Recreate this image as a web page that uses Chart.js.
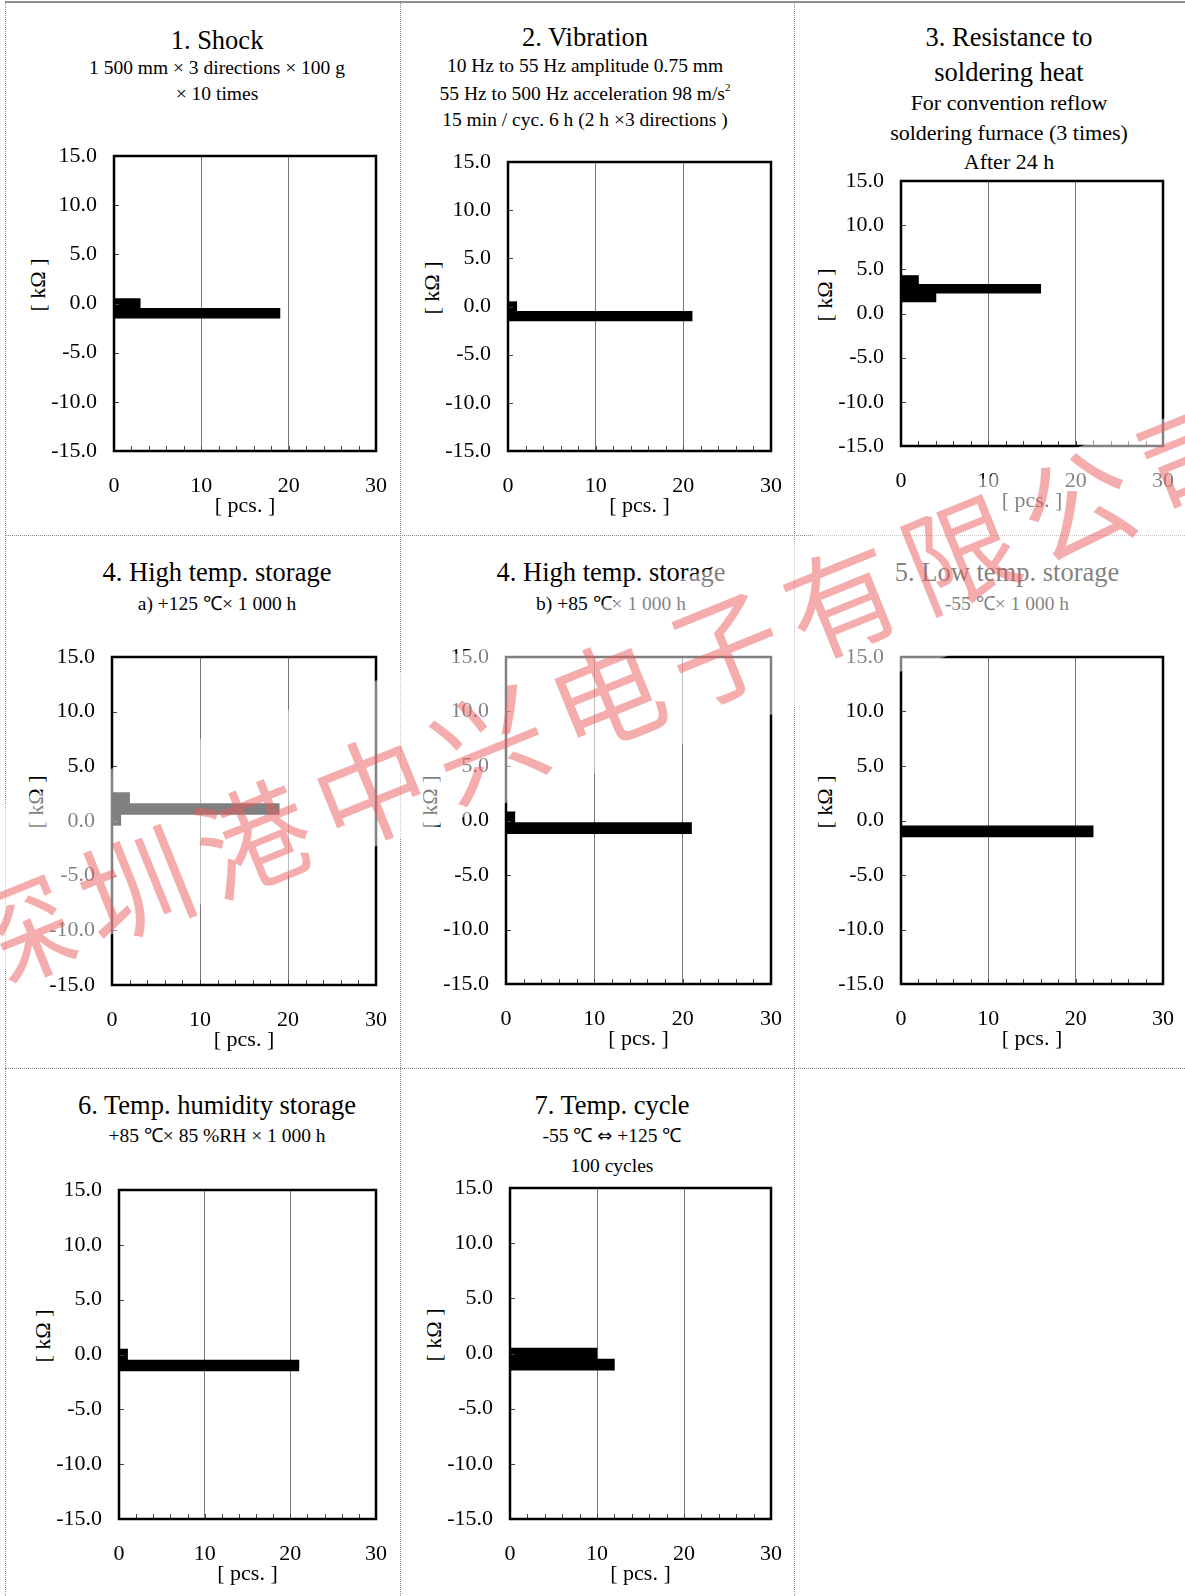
<!DOCTYPE html>
<html>
<head>
<meta charset="utf-8">
<script src="https://cdn.jsdelivr.net/npm/chart.js@4.4.1/dist/chart.umd.min.js"></script>
<style>
  body { margin: 0; background: #fff; width: 1185px; height: 1596px; position: relative; overflow: hidden;
         font-family: 'Liberation Serif', 'Times New Roman', serif; color: #000; }
  .t { position: absolute; white-space: nowrap; transform: translateX(-50%); line-height: 1; }
  .t sup { font-size: 11px; vertical-align: 9px; line-height: 0; }
  .arr { font-family: 'DejaVu Sans'; font-size: 18px; }
  .ylab { position: absolute; white-space: nowrap; font-size: 22px; line-height: 1; transform: translate(-50%, -50%) rotate(-90deg); }
  .vl { position: absolute; width: 0; border-left: 1px dotted #8a8a8a; }
  .hl { position: absolute; height: 0; border-top: 1px dotted #8a8a8a; }
  canvas { position: absolute; }
  #band { position: absolute; left: 592px; top: 691px; width: 1700px; height: 157px; margin-left: -850px; margin-top: -78px;
          transform: rotate(-18.4deg); background: rgba(255,255,255,0.5); pointer-events: none; z-index: 4; }
  #wm { position: absolute; left: 604px; top: 690px; width: 1700px; height: 150px; margin-left: -850px; margin-top: -75px;
        transform: rotate(-22deg); text-align: center; line-height: 150px; padding-left: 15px; box-sizing: border-box;
        font-family: 'Noto Sans CJK SC'; font-weight: 400; font-size: 112px; letter-spacing: 15px; color: rgba(235,90,90,0.5);
        white-space: nowrap; pointer-events: none; z-index: 5; }
</style>
</head>
<body>
<script>
// resistance change bins [kΩ] and number of pieces per bin
var shockKohm = [0, -1];
var shockPcs = [3, 19];
var vibrationKohm = [0, -1];
var vibrationPcs = [1, 21];
var solderKohm = [3.8, 2.8, 1.8];
var solderPcs = [2, 16, 4];
var highTempAKohm = [2.1, 1.1, 0.1];
var highTempAPcs = [2, 19, 1];
var highTempBKohm = [0.3, -0.7];
var highTempBPcs = [1, 21];
var lowTempKohm = [-1];
var lowTempPcs = [22];
var humidityKohm = [0, -1];
var humidityPcs = [1, 21];
var cycleKohm = [0, -1];
var cyclePcs = [10, 12];

var pcsTicks = [0, 10, 20, 30];
var kohmTicks = [-15, -10, -5, 0, 5, 10, 15];

Chart.defaults.font.family = "'Liberation Serif', 'Times New Roman', serif";
Chart.defaults.font.size = 22;
Chart.defaults.color = '#000';

var panels = [
  { kohm: shockKohm, pcs: shockPcs, plot: [114, 156, 376, 451], cx: 217,
    lines: [['1. Shock', 41, 26.5], ['1 500 mm × 3 directions × 100 g', 69, 19.5], ['× 10 times', 95, 19.5]] },
  { kohm: vibrationKohm, pcs: vibrationPcs, plot: [508, 162, 771, 451], cx: 585,
    lines: [['2. Vibration', 38, 26.5], ['10 Hz to 55 Hz amplitude 0.75 mm', 66.5, 19.5],
            ['55 Hz to 500 Hz acceleration 98 m/s<sup>2</sup>', 94.5, 19.5], ['15 min / cyc. 6 h (2 h ×3 directions )', 120.5, 19.5]] },
  { kohm: solderKohm, pcs: solderPcs, plot: [901, 181, 1163, 446], cx: 1009,
    lines: [['3. Resistance to', 38, 26.5], ['soldering heat', 73.5, 26.5], ['For convention reflow', 104, 22],
            ['soldering furnace (3 times)', 133.5, 22], ['After 24 h', 163, 22]] },
  { kohm: highTempAKohm, pcs: highTempAPcs, plot: [112, 657, 376, 985], cx: 217,
    lines: [['4. High temp. storage', 573, 26.5], ['a) +125 ℃× 1 000 h', 605, 19.5]] },
  { kohm: highTempBKohm, pcs: highTempBPcs, plot: [506, 657, 771, 984], cx: 611,
    lines: [['4. High temp. storage', 573, 26.5], ['b) +85 ℃× 1 000 h', 605, 19.5]] },
  { kohm: lowTempKohm, pcs: lowTempPcs, plot: [901, 657, 1163, 984], cx: 1007,
    lines: [['5. Low temp. storage', 573, 26.5], ['-55 ℃× 1 000 h', 605, 19.5]] },
  { kohm: humidityKohm, pcs: humidityPcs, plot: [119, 1190, 376, 1519], cx: 217,
    lines: [['6. Temp. humidity storage', 1106, 26.5], ['+85 ℃× 85 %RH × 1 000 h', 1137, 19.5]] },
  { kohm: cycleKohm, pcs: cyclePcs, plot: [510, 1188, 771, 1519], cx: 612,
    lines: [['7. Temp. cycle', 1106, 26.5], ['-55 ℃ <span class="arr">⇔</span> +125 ℃', 1137, 19.5], ['100 cycles', 1167, 19.5]] }
];

// thick frame + small inside tick marks
var frame = {
  id: 'frame',
  afterDatasetsDraw: function (chart) {
    var a = chart.chartArea, ctx = chart.ctx, xs = chart.scales.x, ys = chart.scales.y;
    ctx.save();
    ctx.strokeStyle = '#444';
    ctx.lineWidth = 1;
    for (var v = 2; v < 30; v += 2) {
      var px = Math.round(xs.getPixelForValue(v)) + 0.5;
      ctx.beginPath(); ctx.moveTo(px, a.bottom); ctx.lineTo(px, a.bottom - 5); ctx.stroke();
    }
    kohmTicks.forEach(function (k) {
      var py = Math.round(ys.getPixelForValue(k)) + 0.5;
      ctx.beginPath(); ctx.moveTo(a.left, py); ctx.lineTo(a.left + 5, py); ctx.stroke();
    });
    ctx.strokeStyle = '#000';
    ctx.lineWidth = 2.5;
    ctx.strokeRect(a.left, a.top, a.right - a.left, a.bottom - a.top);
    ctx.restore();
  }
};

function addDiv(cls, style, html) {
  var d = document.createElement('div');
  d.className = cls;
  d.style.cssText = style;
  d.innerHTML = html;
  document.body.appendChild(d);
  return d;
}

// cell separators
addDiv('', 'position:absolute;left:5px;top:1px;width:1180px;height:0;border-top:2px solid #909090;', '');
addDiv('vl', 'left:5px;top:2px;height:1594px;', '');
addDiv('vl', 'left:400px;top:2px;height:1594px;', '');
addDiv('vl', 'left:794px;top:2px;height:1594px;', '');
addDiv('hl', 'left:5px;top:535px;width:1180px;', '');
addDiv('hl', 'left:5px;top:1068px;width:1180px;', '');

panels.forEach(function (p) {
  var L = p.plot[0], T = p.plot[1], R = p.plot[2], B = p.plot[3];
  // room for the scale's own label padding so the plot area lands on L,T,R,B
  var padL = 90, padT = 34, padR = 36, padB = 70;

  p.lines.forEach(function (ln) {
    addDiv('t', 'left:' + p.cx + 'px;top:' + (ln[1] - 0.54 * ln[2]) + 'px;font-size:' + ln[2] + 'px;', ln[0]);
  });
  addDiv('ylab', 'left:' + (L - 76) + 'px;top:' + ((T + B) / 2 - 19) + 'px;', '[ kΩ ]');

  var canvas = document.createElement('canvas');
  canvas.width = (R - L) + padL + padR;
  canvas.height = (B - T) + padT + padB;
  canvas.style.left = (L - padL) + 'px';
  canvas.style.top = (T - padT) + 'px';
  document.body.appendChild(canvas);

  new Chart(canvas.getContext('2d'), {
    type: 'bar',
    data: {
      datasets: [{
        data: p.kohm.map(function (k, i) { return { y: k, x: p.pcs[i] }; }),
        backgroundColor: '#000',
        borderWidth: 0,
        barPercentage: 1,
        categoryPercentage: 1
      }]
    },
    options: {
      indexAxis: 'y',
      responsive: false,
      animation: false,
      layout: { padding: { left: 0, top: padT, right: padR, bottom: 0 } },
      plugins: { legend: { display: false }, tooltip: { enabled: false } },
      scales: {
        x: {
          type: 'linear', min: 0, max: 30,
          ticks: { stepSize: 10, autoSkip: false, maxRotation: 0, padding: 22,
                   callback: function (v) { return pcsTicks.indexOf(v) >= 0 ? String(v) : ''; } },
          grid: { drawTicks: false, lineWidth: 1,
                  color: function (c) { return (c.tick && (c.tick.value === 10 || c.tick.value === 20)) ? '#777' : 'rgba(0,0,0,0)'; } },
          border: { display: false },
          title: { display: true, text: '[ pcs. ]', padding: { top: 0, bottom: 2 } },
          afterFit: function (s) { s.height = padB; }
        },
        y: {
          type: 'linear', min: -15, max: 15, offset: false,
          ticks: { stepSize: 1, autoSkip: false, padding: 17,
                   callback: function (v) { return kohmTicks.indexOf(v) >= 0 ? v.toFixed(1) : ''; } },
          grid: { display: false, drawTicks: false, offset: false },
          border: { display: false },
          afterFit: function (s) { s.width = padL; }
        }
      }
    },
    plugins: [frame]
  });
});

// faded watermark band over the sheet
addDiv('', '', '').id = 'band';
addDiv('', '', '').id = 'wm';
document.getElementById('wm').textContent = '深圳港中兴电子有限公司';
</script>
</body>
</html>
